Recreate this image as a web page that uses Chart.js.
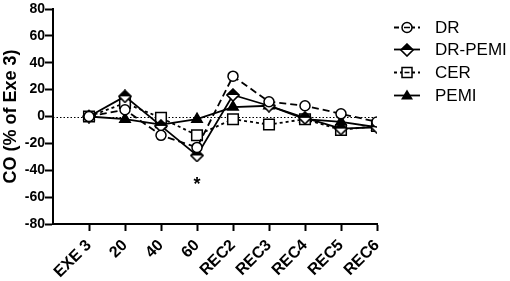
<!DOCTYPE html>
<html>
<head>
<meta charset="utf-8">
<script src="https://cdn.jsdelivr.net/npm/chart.js@4/dist/chart.umd.min.js"></script>
<style>
  html, body { margin: 0; padding: 0; background: #fff; }
  #wrap { width: 510px; height: 281px; }
</style>
</head>
<body>
<div id="wrap"><canvas id="co-chart"></canvas></div>
<script>
// categories and values
const stages = ['EXE 3', '20', '40', '60', 'REC2', 'REC3', 'REC4', 'REC5', 'REC6'];
const drValues = [0, 5, -14, -23, 30, 11, 8, 2, -4];
const drPemiValues = [0, 15, -7, -29, 16, 8, -1, -9, -8];
const cerValues = [0, 10, -1, -14, -2, -6, -2, -10, -7];
const pemiValues = [0, -2, -6, -2, 7, 8, -2, -4, -8];
const yTicks = [-80, -60, -40, -20, 0, 20, 40, 60, 80];

const FONT = 'Arial, "Liberation Sans", sans-serif';

// half filled diamond (top black, bottom white) used for DR-PEMI
function makeDiamond() {
  const c = document.createElement('canvas');
  const s = 14;
  c.width = s; c.height = s;
  const g = c.getContext('2d');
  const m = s / 2;
  const path = () => {
    g.beginPath();
    g.moveTo(m, 1); g.lineTo(s - 1, m); g.lineTo(m, s - 1); g.lineTo(1, m);
    g.closePath();
  };
  path();
  g.fillStyle = '#fff'; g.fill();
  g.beginPath(); g.moveTo(m, 1); g.lineTo(s - 1, m); g.lineTo(1, m); g.closePath();
  g.fillStyle = '#000'; g.fill();
  path();
  g.lineWidth = 1.6; g.strokeStyle = '#000'; g.stroke();
  return c;
}
const diamondImg = makeDiamond();

function toPoints(values) {
  return values.map((v, i) => ({ x: i, y: v }));
}

const series = [
  { label: 'DR', data: drValues, style: 'circle', radius: 5, fill: '#fff', dash: [7, 4], legendDash: [5, 3] },
  { label: 'DR-PEMI', data: drPemiValues, style: diamondImg, radius: 7, fill: '#fff', dash: [], legendDash: [] },
  { label: 'CER', data: cerValues, style: 'rect', radius: 7.5, fill: '#fff', dash: [3, 3], legendDash: [3, 3] },
  { label: 'PEMI', data: pemiValues, style: 'triangle', radius: 6, fill: '#000', dash: [], legendDash: [] }
];

const datasets = series.map(s => ({
  label: s.label,
  data: toPoints(s.data),
  borderColor: '#000',
  borderWidth: 1.8,
  borderDash: s.dash,
  pointStyle: s.style,
  pointRadius: s.radius,
  pointHoverRadius: s.radius,
  pointBackgroundColor: s.fill,
  pointBorderColor: '#000',
  pointBorderWidth: 1.5,
  fill: false,
  tension: 0
}));

// legend marker painter
function legendMarker(ctx, style, x, y) {
  ctx.save();
  ctx.strokeStyle = '#000';
  ctx.lineWidth = 1.5;
  ctx.setLineDash([]);
  if (style === 'circle') {
    ctx.beginPath(); ctx.arc(x, y, 5, 0, Math.PI * 2);
    ctx.fillStyle = '#fff'; ctx.fill(); ctx.stroke();
    ctx.beginPath(); ctx.moveTo(x - 3, y); ctx.lineTo(x + 3, y); ctx.stroke();
  } else if (style === 'rect') {
    ctx.fillStyle = '#fff';
    ctx.fillRect(x - 5, y - 5, 10, 10); ctx.strokeRect(x - 5, y - 5, 10, 10);
    ctx.beginPath(); ctx.moveTo(x - 2.5, y); ctx.lineTo(x + 2.5, y); ctx.stroke();
  } else if (style === 'triangle') {
    ctx.beginPath(); ctx.moveTo(x, y - 6); ctx.lineTo(x + 6, y + 4); ctx.lineTo(x - 6, y + 4); ctx.closePath();
    ctx.fillStyle = '#000'; ctx.fill();
  } else {
    ctx.drawImage(style, Math.round(x - style.width / 2), Math.round(y - style.height / 2));
  }
  ctx.restore();
}

// dotted zero line, asterisk and the legend at the right
const extrasPlugin = {
  id: 'extras',
  beforeDatasetsDraw(chart) {
    const { ctx, chartArea, scales } = chart;
    const y0 = Math.round(scales.y.getPixelForValue(0)) + 0.5;
    ctx.save();
    ctx.strokeStyle = '#000';
    ctx.lineWidth = 1;
    ctx.setLineDash([1.5, 2]);
    ctx.beginPath();
    ctx.moveTo(chartArea.left, y0);
    ctx.lineTo(scales.x.getPixelForValue(8), y0);
    ctx.stroke();
    ctx.restore();
  },
  afterDraw(chart) {
    const { ctx, scales } = chart;
    ctx.save();
    ctx.fillStyle = '#000';
    ctx.font = 'bold 18px ' + FONT;
    ctx.textAlign = 'center';
    ctx.textBaseline = 'middle';
    ctx.fillText('*', scales.x.getPixelForValue(3), scales.y.getPixelForValue(-51));

    // legend
    const lx = 407;
    const ly = [27, 49, 72, 95];
    series.forEach((s, i) => {
      const y = ly[i] + 0.5;
      ctx.strokeStyle = '#000';
      ctx.lineWidth = 1.8;
      ctx.setLineDash(s.legendDash);
      ctx.beginPath();
      ctx.moveTo(lx - 13, y);
      ctx.lineTo(lx + 13, y);
      ctx.stroke();
      legendMarker(ctx, s.style, lx, y);
      ctx.fillStyle = '#000';
      ctx.font = '17px ' + FONT;
      ctx.textAlign = 'left';
      ctx.textBaseline = 'middle';
      ctx.fillText(s.label, lx + 28, y + 1);
    });
    ctx.restore();
  }
};

new Chart(document.getElementById('co-chart'), {
  type: 'line',
  data: { datasets },
  plugins: [extrasPlugin],
  options: {
    responsive: true,
    maintainAspectRatio: false,
    animation: false,
    layout: { padding: { top: 6, right: 133, left: 0, bottom: 0 } },
    plugins: {
      legend: { display: false },
      tooltip: { enabled: false }
    },
    scales: {
      x: {
        type: 'linear',
        min: -1,
        max: 8,
        afterBuildTicks(scale) {
          scale.ticks = stages.map((_, i) => ({ value: i }));
        },
        afterFit(scale) { scale.height = 57; },
        ticks: {
          autoSkip: false,
          maxRotation: 45,
          minRotation: 45,
          padding: 5,
          color: '#000',
          font: { family: FONT, size: 16, weight: 'bold' },
          callback: v => stages[v] ?? ''
        },
        grid: { drawOnChartArea: false, tickLength: 7, tickWidth: 2, tickColor: '#000' },
        border: { color: '#000', width: 2 }
      },
      y: {
        min: -80,
        max: 80,
        afterBuildTicks(scale) {
          scale.ticks = yTicks.map(v => ({ value: v }));
        },
        afterFit(scale) { scale.width = 53; },
        ticks: {
          padding: 0,
          color: '#000',
          font: { family: FONT, size: 14, weight: 'bold' }
        },
        grid: { drawOnChartArea: false, tickLength: 8, tickWidth: 2, tickColor: '#000' },
        border: { color: '#000', width: 2 },
        title: {
          display: true,
          text: 'CO (% of Exe 3)',
          color: '#000',
          padding: 0,
          font: { family: FONT, size: 18, weight: 'bold' }
        }
      }
    }
  }
});
</script>
</body>
</html>
